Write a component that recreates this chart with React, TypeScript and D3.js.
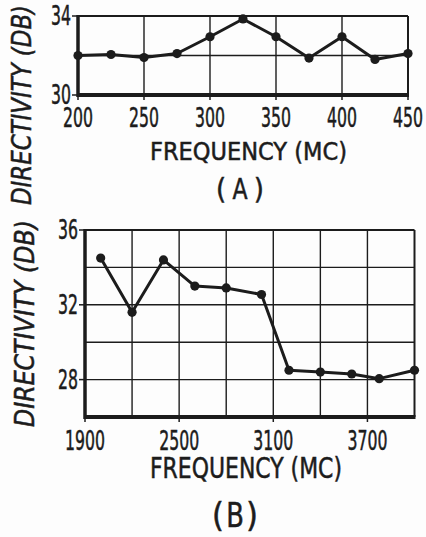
import React from "react";
import * as d3 from "d3";

const topFreq = [200, 225, 250, 275, 300, 325, 350, 375, 400, 425, 450];
const topDir = [32.0, 32.05, 31.9, 32.1, 32.95, 33.85, 32.95, 31.87, 32.95, 31.8, 32.1];
const topXTicks = [200, 250, 300, 350, 400, 450];
const topYTicks = [30, 34];
const topYGrid = [32];

const botFreq = [2000, 2200, 2400, 2600, 2800, 3025, 3200, 3400, 3600, 3775, 4000];
const botDir = [34.5, 31.6, 34.4, 33.0, 32.9, 32.55, 28.5, 28.4, 28.3, 28.05, 28.5];
const botXTicks = [1900, 2500, 3100, 3700];
const botXGrid = [2200, 2500, 2800, 3100, 3400, 3700];
const botYTicks = [28, 32, 36];
const botYGrid = [28, 30, 32, 34];

const INK = "#1c1c1c";
const FONT = "'Liberation Sans Narrow', 'DejaVu Sans Condensed', 'DejaVu Sans', sans-serif";
const TS = { stroke: INK, strokeWidth: 0.5 };

type PanelProps = {
  x0: number; x1: number; y0: number; y1: number;
  xDom: [number, number]; yDom: [number, number];
  xs: number[]; ys: number[];
  xTicks: number[]; xGrid: number[]; yTicks: number[]; yGrid: number[];
  tickFont: number; tickBase: number; charW: number;
  freqBase: number; freqFont: number; freqX0: number; freqX1: number;
  letter: string; letterBase: number; letterFont: number; letterX0: number; letterX1: number;
  titleX: number; titleY0: number; titleY1: number; titleFont: number;
};

function Panel(p: PanelProps) {
  const x = d3.scaleLinear().domain(p.xDom).range([p.x0, p.x1]);
  const y = d3.scaleLinear().domain(p.yDom).range([p.y1, p.y0]);
  const line = d3.line<number>().x((_, i) => x(p.xs[i])).y((d) => y(d));
  const titleCy = (p.titleY0 + p.titleY1) / 2;
  const letterMid = (p.letterX0 + p.letterX1) / 2;
  return (
    <g>
      {p.xGrid.map((v) => (
        <line key={"gx" + v} x1={x(v)} x2={x(v)} y1={p.y0} y2={p.y1} stroke={INK} strokeWidth={1.4} />
      ))}
      {p.yGrid.map((v) => (
        <line key={"gy" + v} x1={p.x0} x2={p.x1} y1={y(v)} y2={y(v)} stroke={INK} strokeWidth={1.4} />
      ))}
      {/* frame */}
      <line x1={p.x0} x2={p.x1} y1={p.y0} y2={p.y0} stroke={INK} strokeWidth={2} />
      <line x1={p.x1} x2={p.x1} y1={p.y0} y2={p.y1} stroke={INK} strokeWidth={2} />
      <line x1={p.x0} x2={p.x0} y1={p.y0 - 1} y2={p.y1 + 2} stroke={INK} strokeWidth={3.5} />
      <line x1={p.x0 - 1} x2={p.x1 + 1} y1={p.y1} y2={p.y1} stroke={INK} strokeWidth={4} />
      {/* ticks */}
      {p.yTicks.map((v) => (
        <g key={"yt" + v}>
          <line x1={p.x0 - 6} x2={p.x0} y1={y(v)} y2={y(v)} stroke={INK} strokeWidth={1.5} />
          <text x={p.x0 - 7} y={y(v)} dy="0.36em" textAnchor="end" fontFamily={FONT}
            fontSize={p.tickFont} fill={INK} {...TS} textLength={String(v).length * p.charW}
            lengthAdjust="spacingAndGlyphs">{v}</text>
        </g>
      ))}
      {p.xTicks.map((v) => (
        <g key={"xt" + v}>
          <line x1={x(v)} x2={x(v)} y1={p.y1} y2={p.y1 + 5} stroke={INK} strokeWidth={1.5} />
          <text x={x(v)} y={p.tickBase} textAnchor="middle" fontFamily={FONT}
            fontSize={p.tickFont} fill={INK} {...TS} textLength={String(v).length * p.charW}
            lengthAdjust="spacingAndGlyphs">{v}</text>
        </g>
      ))}
      {/* data */}
      <path d={line(p.ys) || ""} fill="none" stroke={INK} strokeWidth={3} strokeLinejoin="round" />
      {p.ys.map((v, i) => (
        <circle key={"pt" + i} cx={x(p.xs[i])} cy={y(v)} r={4.6} fill={INK} />
      ))}
      {/* axis titles */}
      <text x={p.freqX0} y={p.freqBase} fontFamily={FONT} fontSize={p.freqFont} fill={INK} {...TS}
        textLength={p.freqX1 - p.freqX0} lengthAdjust="spacingAndGlyphs">FREQUENCY (MC)</text>
      <g fontFamily={FONT} fontSize={p.letterFont} fill={INK} {...TS}>
        <text x={p.letterX0} y={p.letterBase} textAnchor="start">(</text>
        <text x={letterMid} y={p.letterBase} textAnchor="middle" textLength={p.letterFont * 0.52}
          lengthAdjust="spacingAndGlyphs">{p.letter}</text>
        <text x={p.letterX1} y={p.letterBase} textAnchor="end">)</text>
      </g>
      <text transform={`translate(${p.titleX},${titleCy}) rotate(-90)`} textAnchor="middle"
        fontFamily={FONT} fontStyle="italic" fontSize={p.titleFont} fill={INK} {...TS}
        textLength={p.titleY1 - p.titleY0} lengthAdjust="spacingAndGlyphs">DIRECTIVITY (DB)</text>
    </g>
  );
}

export default function App() {
  return (
    <svg width={426} height={537} style={{ position: "absolute", left: 0, top: 0, background: "#fff" }}>
      <rect width={426} height={537} fill="#fdfdfd" />
      <Panel
        x0={78} x1={408} y0={16} y1={95}
        xDom={[200, 450]} yDom={[30, 34]}
        xs={topFreq} ys={topDir}
        xTicks={topXTicks} xGrid={topXTicks} yTicks={topYTicks} yGrid={topYGrid}
        tickFont={26} tickBase={127} charW={10}
        freqBase={160} freqFont={25} freqX0={150} freqX1={347}
        letter="A" letterBase={199} letterFont={29} letterX0={216} letterX1={264}
        titleX={31} titleY0={5} titleY1={205} titleFont={26}
      />
      <Panel
        x0={85} x1={414.5} y0={230} y1={417}
        xDom={[1900, 4000]} yDom={[26, 36]}
        xs={botFreq} ys={botDir}
        xTicks={botXTicks} xGrid={botXGrid} yTicks={botYTicks} yGrid={botYGrid}
        tickFont={26} tickBase={450} charW={10}
        freqBase={478} freqFont={29} freqX0={150} freqX1={342}
        letter="B" letterBase={527} letterFont={34} letterX0={212} letterX1={258}
        titleX={34} titleY0={220} titleY1={427} titleFont={27}
      />
    </svg>
  );
}
